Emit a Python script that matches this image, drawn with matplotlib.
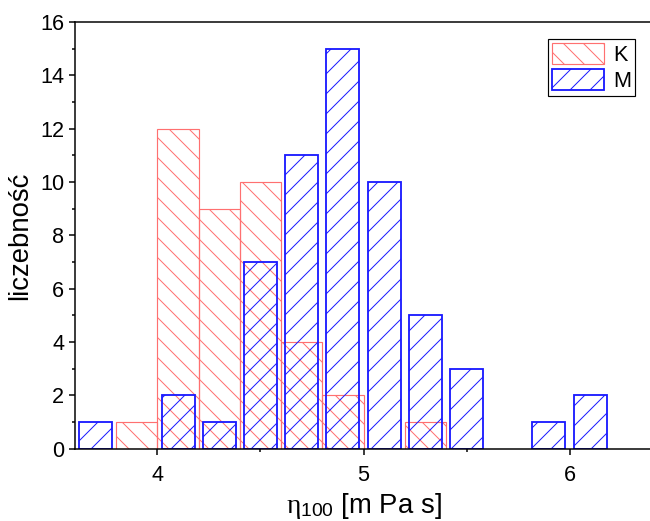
import numpy as np
import matplotlib
matplotlib.use("Agg")
import matplotlib.pyplot as plt
from matplotlib.ticker import MultipleLocator

# histogram data (bin centres and counts)
k_x = [3.9, 4.1, 4.3, 4.5, 4.7, 4.9, 5.3]
k_n = [1, 12, 9, 10, 4, 2, 1]
m_x = [3.7, 4.1, 4.3, 4.5, 4.7, 4.9, 5.1, 5.3, 5.5, 5.9, 6.1]
m_n = [1, 2, 1, 7, 11, 15, 10, 5, 3, 1, 2]

plt.rcParams['font.family'] = ['Liberation Sans', 'DejaVu Sans']
plt.rcParams['mathtext.fontset'] = 'custom'
plt.rcParams['mathtext.rm'] = 'Liberation Sans'
plt.rcParams['mathtext.it'] = 'Liberation Serif'
plt.rcParams['hatch.linewidth'] = 0.6

dpi = 120
fig = plt.figure(figsize=(650 / dpi, 521 / dpi), dpi=dpi)
ax = fig.add_axes([0.1154, 0.1385, 0.8877, 0.8193])

ax.bar(k_x, k_n, width=0.2, facecolor='none', edgecolor='#ff7070',
       hatch='\\\\', linewidth=0.7, label='K')
ax.bar(m_x, m_n, width=0.16, facecolor='none', edgecolor='#1a1aff',
       hatch='//', linewidth=1.1, label='M')

ax.set_xlim(3.6, 6.4)
ax.set_ylim(0, 16)
ax.xaxis.set_major_locator(MultipleLocator(1))
ax.xaxis.set_minor_locator(MultipleLocator(0.5))
ax.yaxis.set_major_locator(MultipleLocator(2))
ax.yaxis.set_minor_locator(MultipleLocator(1))
ax.tick_params(which='both', direction='out', width=0.9, labelsize=13)
ax.tick_params(which='major', length=3.6)
ax.tick_params(which='minor', length=2)
ax.tick_params(axis='x', pad=6)
ax.tick_params(axis='y', pad=3)

ax.spines['right'].set_visible(False)
for s in ['left', 'bottom', 'top']:
    ax.spines[s].set_linewidth(0.9)

ax.set_ylabel('liczebność', fontsize=16.5, labelpad=4)
ax.set_xlabel(r'$\eta_{\mathrm{100}}$ [m Pa s]', fontsize=16.5, labelpad=3)

leg = ax.legend(loc='upper right', fontsize=13, frameon=True, fancybox=False,
                edgecolor='black', framealpha=1, handlelength=2.4,
                handleheight=1.1, labelspacing=0.15, borderpad=0.2,
                handletextpad=0.4, borderaxespad=0.78)
leg.get_frame().set_linewidth(0.7)

fig.savefig('out.png', dpi=dpi)
